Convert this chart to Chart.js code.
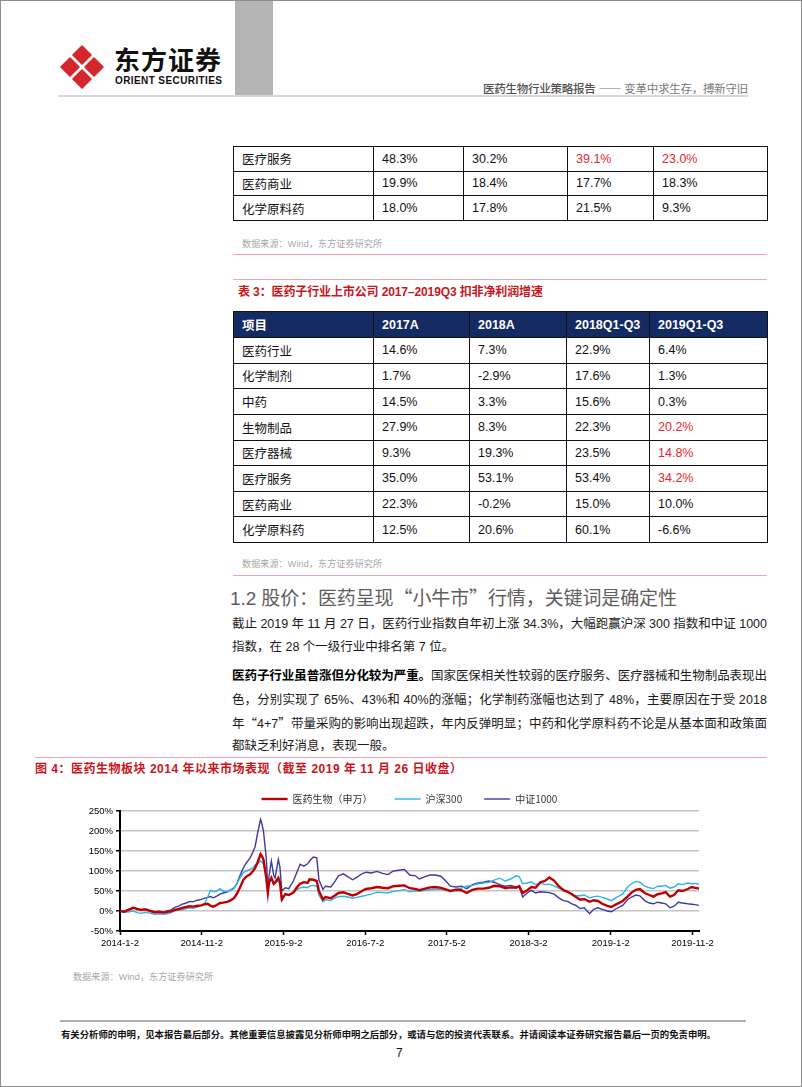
<!DOCTYPE html>
<html lang="zh-CN">
<head>
<meta charset="utf-8">
<title>医药生物行业策略报告</title>
<script src="https://cdn.jsdelivr.net/npm/chart.js@4.4.1/dist/chart.umd.min.js"></script>
<style>
  html, body { margin: 0; padding: 0; background: #fff; }
  #page { position: relative; width: 802px; height: 1087px; overflow: hidden;
    font-family: "Liberation Sans", Arial, "Noto Sans CJK SC", sans-serif; color: #111; }
  #frame { position: absolute; left: 0; top: 0; width: 802px; height: 1087px; box-sizing: border-box;
    border: 1px solid #8c8c8c; pointer-events: none; }
  .a { position: absolute; white-space: nowrap; display: inline-block; }
  .cjk { font-family: "Noto Sans CJK SC", sans-serif; }
  .rule { position: absolute; height: 1px; background: #f0a3aa; }
  .src { font-size: 9px; line-height: 12px; color: #a6a6a6; }
  .para { font-size: 12.5px; line-height: 16px; color: #1a1a1a; }
  .ttl { font-size: 12px; line-height: 16px; font-weight: bold; color: #c8161d; }
  table.t { position: absolute; border-collapse: collapse; table-layout: fixed; font-size: 12.5px; }
  table.t td { border: 1.5px solid #111; padding: 0 0 0 8px; white-space: nowrap; color: #111; }
  table.t tr.hd td { background: #142a62; color: #fff; font-weight: bold; border-color: #111; }
  table.t td.red { color: #e8262f; }
</style>
</head>
<body>
<div id="page">
  <!-- header -->
  <div class="a" style="left:235px;top:0;width:38px;height:96px;background:#b4b4b4;"></div>
  <svg class="a" style="left:58px;top:43px" width="48" height="48" viewBox="0 0 48 48">
    <g fill="#d6262d" stroke="#d6262d" stroke-width="1.6" stroke-linejoin="round">
      <polygon points="24,3 33,12 24,21 15,12"/>
      <polygon points="3,24 12,15 21,24 12,33"/>
      <polygon points="45,24 36,15 27,24 36,33"/>
      <polygon points="24,45 33,36 24,27 15,36"/>
    </g>
  </svg>
  <div class="a cjk" data-fit="107" style="left:114px;top:44px;font-size:26px;line-height:30px;font-weight:bold;color:#111;">东方证券</div>
  <div class="a" data-fit="107" style="left:115px;top:75px;font-size:10px;line-height:12px;font-weight:bold;color:#111;">ORIENT SECURITIES</div>
  <div class="a" data-fit="265" style="left:483px;top:81px;font-size:11.5px;line-height:14px;color:#7a7a7a;"><span class="cjk" style="color:#505050;font-weight:500;">医药生物行业策略报告</span> <span class="cjk">——</span> <span class="cjk">变革中求生存，搏新守旧</span></div>
  <div class="a" style="left:58px;top:95px;width:690px;height:2px;background:#d8d8d8;"></div>

  <!-- table continued -->
  <table class="t" style="left:233px;top:146px;width:534px;height:75px;">
    <colgroup><col style="width:140px"><col style="width:90px"><col style="width:104px"><col style="width:86px"><col style="width:114px"></colgroup>
    <tr><td class="cjk">医疗服务</td><td>48.3%</td><td>30.2%</td><td class="red">39.1%</td><td class="red">23.0%</td></tr>
    <tr><td class="cjk">医药商业</td><td>19.9%</td><td>18.4%</td><td>17.7%</td><td>18.3%</td></tr>
    <tr><td class="cjk">化学原料药</td><td>18.0%</td><td>17.8%</td><td>21.5%</td><td>9.3%</td></tr>
  </table>
  <div class="a src" data-fit="140" style="left:242px;top:238px;">数据来源：Wind，东方证券研究所</div>
  <div class="rule" style="left:233px;top:254px;width:534px;"></div>

  <div class="rule" style="left:233px;top:279px;width:534px;"></div>
  <div class="a ttl" data-fit="305" style="left:238px;top:284px;">表 3：医药子行业上市公司 2017–2019Q3 扣非净利润增速</div>

  <table class="t" style="left:233px;top:311px;width:534px;height:232px;">
    <colgroup><col style="width:140px"><col style="width:96px"><col style="width:97px"><col style="width:83px"><col style="width:118px"></colgroup>
    <tr class="hd" style="height:26px"><td class="cjk">项目</td><td>2017A</td><td>2018A</td><td>2018Q1-Q3</td><td>2019Q1-Q3</td></tr>
    <tr><td class="cjk">医药行业</td><td>14.6%</td><td>7.3%</td><td>22.9%</td><td>6.4%</td></tr>
    <tr><td class="cjk">化学制剂</td><td>1.7%</td><td>-2.9%</td><td>17.6%</td><td>1.3%</td></tr>
    <tr><td class="cjk">中药</td><td>14.5%</td><td>3.3%</td><td>15.6%</td><td>0.3%</td></tr>
    <tr><td class="cjk">生物制品</td><td>27.9%</td><td>8.3%</td><td>22.3%</td><td class="red">20.2%</td></tr>
    <tr><td class="cjk">医疗器械</td><td>9.3%</td><td>19.3%</td><td>23.5%</td><td class="red">14.8%</td></tr>
    <tr><td class="cjk">医疗服务</td><td>35.0%</td><td>53.1%</td><td>53.4%</td><td class="red">34.2%</td></tr>
    <tr><td class="cjk">医药商业</td><td>22.3%</td><td>-0.2%</td><td>15.0%</td><td>10.0%</td></tr>
    <tr><td class="cjk">化学原料药</td><td>12.5%</td><td>20.6%</td><td>60.1%</td><td>-6.6%</td></tr>
  </table>
  <div class="a src" data-fit="140" style="left:242px;top:558px;">数据来源：Wind，东方证券研究所</div>
  <div class="rule" style="left:233px;top:575px;width:534px;"></div>

  <!-- section text -->
  <div class="a" data-fit="447" style="left:230px;top:585px;font-size:19px;line-height:24px;color:#5e5e5e;">1.2 <span class="cjk">股价：医药呈现“小牛市”行情，关键词是确定性</span></div>
  <div class="a para" data-fit="535" style="left:232px;top:616px;">截止 2019 年 11 月 27 日，医药行业指数自年初上涨 34.3%，大幅跑赢沪深 300 指数和中证 1000</div>
  <div class="a para" style="left:232px;top:639px;">指数，在 28 个一级行业中排名第 7 位。</div>
  <div class="a para" data-fit="535" style="left:232px;top:668px;"><b style="color:#000">医药子行业虽普涨但分化较为严重。</b>国家医保相关性较弱的医疗服务、医疗器械和生物制品表现出</div>
  <div class="a para" data-fit="535" style="left:232px;top:691.5px;">色，分别实现了 65%、43%和 40%的涨幅；化学制药涨幅也达到了 48%，主要原因在于受 2018</div>
  <div class="a para" data-fit="535" style="left:232px;top:715px;">年<span class="cjk">“</span>4+7<span class="cjk">”</span>带量采购的影响出现超跌，年内反弹明显；中药和化学原料药不论是从基本面和政策面</div>
  <div class="a para" style="left:232px;top:738px;">都缺乏利好消息，表现一般。</div>

  <!-- figure 4 -->
  <div class="rule" style="left:35px;top:757px;width:732px;"></div>
  <div class="a ttl" data-fit="427" style="left:35px;top:761px;">图 4：医药生物板块 2014 年以来市场表现（截至 2019 年 11 月 26 日收盘）</div>
  <div class="a" style="left:35px;top:772px;width:733px;height:183px;">
    <canvas id="perfChart" width="733" height="183"></canvas>
  </div>
  <div class="a src" data-fit="140" style="left:73px;top:971px;">数据来源：Wind，东方证券研究所</div>

  <!-- footer -->
  <div class="a" style="left:60px;top:1020px;width:686px;height:2px;background:#b0b0b0;"></div>
  <div class="a cjk" data-fit="655" style="left:61px;top:1028px;font-size:9.4px;line-height:12px;font-weight:bold;color:#111;">有关分析师的申明，见本报告最后部分。其他重要信息披露见分析师申明之后部分，或请与您的投资代表联系。并请阅读本证券研究报告最后一页的免责申明。</div>
  <div class="a" style="left:396px;top:1045px;font-size:12px;line-height:16px;color:#111;">7</div>

  <div id="frame"></div>
</div>

<script>
// 医药生物板块 vs 沪深300 / 中证1000, cumulative return since 2014-1-2 (%)
const dates = [
  '2014-1-2', '2014-1-17', '2014-2-7', '2014-2-20', '2014-3-7', '2014-3-21', '2014-4-8', '2014-4-25',
  '2014-5-12', '2014-5-28', '2014-6-13', '2014-6-27', '2014-7-11', '2014-7-25', '2014-8-8', '2014-8-22',
  '2014-9-5', '2014-9-19', '2014-9-30', '2014-10-17', '2014-10-31', '2014-11-14', '2014-11-24', '2014-12-5',
  '2014-12-15', '2014-12-28', '2015-1-9', '2015-1-21', '2015-2-4', '2015-2-16', '2015-3-2', '2015-3-12',
  '2015-3-24', '2015-4-6', '2015-4-17', '2015-5-1', '2015-5-12', '2015-5-20', '2015-5-29', '2015-6-9',
  '2015-6-15', '2015-6-20', '2015-6-30', '2015-7-6', '2015-7-10', '2015-7-19', '2015-7-28', '2015-8-2',
  '2015-8-14', '2015-8-20', '2015-8-27', '2015-9-9', '2015-9-22', '2015-10-9', '2015-10-21', '2015-11-3',
  '2015-11-17', '2015-12-1', '2015-12-8', '2015-12-22', '2016-1-4', '2016-1-12', '2016-1-27', '2016-2-5',
  '2016-2-25', '2016-3-10', '2016-3-25', '2016-4-12', '2016-4-28', '2016-5-16', '2016-6-1', '2016-6-20',
  '2016-7-5', '2016-7-25', '2016-8-15', '2016-9-5', '2016-9-25', '2016-10-15', '2016-11-5', '2016-11-25',
  '2016-12-15', '2017-1-5', '2017-1-20', '2017-2-10', '2017-3-1', '2017-3-20', '2017-4-10', '2017-4-28',
  '2017-5-15', '2017-6-5', '2017-6-25', '2017-7-15', '2017-8-5', '2017-8-25', '2017-9-15', '2017-10-5',
  '2017-10-25', '2017-11-15', '2017-12-5', '2017-12-25', '2018-1-15', '2018-1-26', '2018-2-8', '2018-2-25',
  '2018-3-12', '2018-3-28', '2018-4-15', '2018-5-2', '2018-5-18', '2018-6-5', '2018-6-22', '2018-7-10',
  '2018-7-25', '2018-8-10', '2018-8-25', '2018-9-10', '2018-9-25', '2018-10-15', '2018-10-30', '2018-11-15',
  '2018-12-1', '2018-12-20', '2019-1-4', '2019-1-20', '2019-2-15', '2019-3-5', '2019-3-20', '2019-4-5',
  '2019-4-20', '2019-5-8', '2019-5-25', '2019-6-10', '2019-6-25', '2019-7-10', '2019-7-25', '2019-8-10',
  '2019-8-25', '2019-9-10', '2019-9-25', '2019-10-15', '2019-10-30', '2019-11-12', '2019-11-26'
];
const swMedicine = [
  0, -2, 4, 8, 5, 3, 4, 0,
  -3, -2, -4, -2, -1, 3, 5, 8,
  10, 12, 11, 13, 14, 17, 18, 13,
  11, 15, 20, 21, 23, 26, 32, 42,
  58, 78, 86, 92, 100, 108, 122, 142,
  136, 128, 83, 46, 70, 83, 68, 71,
  83, 72, 29, 42, 40, 46, 58, 68,
  72, 70, 79, 78, 75, 50, 29, 35,
  32, 38, 45, 47, 43, 39, 42, 50,
  55, 57, 60, 58, 57, 62, 63, 64,
  57, 55, 52, 56, 59, 60, 58, 54,
  50, 53, 52, 45, 53, 56, 56, 58,
  63, 62, 57, 59, 58, 62, 45, 52,
  60, 58, 72, 75, 84, 76, 62, 52,
  48, 42, 35, 28, 30, 23, 27, 25,
  18, 13, 10, 16, 25, 36, 46, 53,
  55, 45, 40, 36, 42, 44, 47, 36,
  40, 52, 50, 55, 60, 58, 56
];
const hs300 = [
  0, -3, -2, 0, -4, -6, -3, -6,
  -8, -7, -8, -7, -4, 1, 2, 3,
  6, 8, 7, 10, 14, 20, 35, 52,
  48, 50, 56, 50, 48, 52, 56, 68,
  82, 96, 100, 104, 108, 115, 118, 125,
  122, 116, 88, 58, 70, 79, 66, 71,
  75, 66, 25, 42, 40, 46, 53, 58,
  60, 58, 62, 64, 62, 40, 23, 28,
  26, 32, 36, 37, 35, 32, 34, 37,
  39, 42, 47, 46, 45, 49, 51, 54,
  48, 50, 50, 52, 53, 54, 54, 52,
  50, 54, 57, 62, 64, 68, 70, 72,
  77, 82, 75, 80, 88, 86, 68, 70,
  73, 66, 70, 66, 67, 63, 57, 52,
  48, 42, 38, 38, 40, 33, 36, 37,
  34, 30, 26, 33, 42, 60, 68, 74,
  72, 62, 58, 56, 62, 62, 64, 57,
  60, 68, 66, 70, 68, 69, 67
];
const csi1000 = [
  0, -1, 5, 9, 6, 2, 5, -1,
  -4, -3, -3, 0, 3, 9, 12, 17,
  20, 24, 23, 27, 29, 32, 34, 36,
  33, 37, 42, 45, 47, 52, 58, 67,
  88, 108, 120, 133, 148, 162, 195, 229,
  215, 198, 133, 58, 85, 125, 88, 83,
  129, 110, 50, 58, 56, 75, 95, 117,
  112, 118, 125, 135, 133, 78, 54, 62,
  60, 72, 88, 93, 86, 78, 84, 93,
  97, 95, 99, 94, 91, 100, 102, 104,
  90, 88, 80, 86, 90, 90, 87, 75,
  62, 60, 62, 56, 66, 70, 72, 75,
  72, 66, 62, 64, 60, 62, 35, 45,
  52, 45, 48, 47, 46, 42, 33, 26,
  24, 18, 14, 6, 8, -7, 4, 8,
  4, 0, -2, 5, 14, 28, 35, 40,
  38, 26, 20, 18, 22, 20, 18, 8,
  12, 22, 20, 18, 17, 16, 14
];
const seriesNames = ['医药生物（申万）', '沪深300', '中证1000'];
const seriesColors = ['#c00000', '#2db4e8', '#3f3a9e'];
const xTickLabels = ['2014-1-2', '2014-11-2', '2015-9-2', '2016-7-2', '2017-5-2', '2018-3-2', '2019-1-2', '2019-11-2'];
const yTicks = [-50, 0, 50, 100, 150, 200, 250];

// stretch single text lines to the measured width of the page
document.querySelectorAll('[data-fit]').forEach(el => {
  const target = parseFloat(el.dataset.fit);
  const w = el.getBoundingClientRect().width;
  const n = [...el.textContent].length;
  if (n > 1) el.style.letterSpacing = ((target - w) / (n - 1)) + 'px';
});

const origin = Date.UTC(2014, 0, 2);
function dayIndex(s) {
  const [y, m, d] = s.split('-').map(Number);
  return Math.round((Date.UTC(y, m - 1, d) - origin) / 86400000);
}
const xTickDays = xTickLabels.map(dayIndex);
const toPoints = vals => dates.map((d, i) => ({ x: dayIndex(d), y: vals[i] }));

const tickFont = { family: '"Liberation Sans", Arial, sans-serif', size: 9.5 };
const ctx = document.getElementById('perfChart').getContext('2d');

new Chart(ctx, {
  type: 'line',
  data: {
    datasets: [swMedicine, hs300, csi1000].map((vals, i) => ({
      label: seriesNames[i],
      data: toPoints(vals),
      borderColor: seriesColors[i],
      backgroundColor: seriesColors[i],
      borderWidth: i === 0 ? 2.4 : 1.4,
    })),
  },
  options: {
    responsive: false,
    animation: false,
    layout: { padding: { left: 0, right: 69, top: 0, bottom: 0 } },
    elements: { point: { radius: 0 }, line: { tension: 0 } },
    plugins: {
      tooltip: { enabled: false },
      legend: {
        position: 'top',
        fullSize: false,
        maxHeight: 39,
        labels: {
          usePointStyle: true,
          pointStyle: 'line',
          pointStyleWidth: 26,
          padding: 22,
          color: '#333',
          font: { family: '"Noto Sans CJK SC", sans-serif', size: 10 },
        },
      },
    },
    scales: {
      x: {
        type: 'linear',
        min: 0,
        max: dayIndex(dates[dates.length - 1]),
        afterBuildTicks: s => { s.ticks = xTickDays.map(v => ({ value: v })); },
        afterFit: s => { s.height = 24; },
        ticks: {
          autoSkip: false,
          maxRotation: 0,
          padding: 3,
          color: '#000',
          font: tickFont,
          callback: (v, i) => xTickLabels[i],
        },
        grid: { drawOnChartArea: false, tickLength: 4, tickColor: '#000', tickWidth: 1.5 },
        border: { color: '#000', width: 2 },
      },
      y: {
        min: -50,
        max: 250,
        afterBuildTicks: s => { s.ticks = yTicks.map(v => ({ value: v })); },
        afterFit: s => { s.width = 85; },
        ticks: { padding: 3, color: '#000', font: tickFont, callback: v => v + '%' },
        grid: { color: '#c4c4c4', lineWidth: 1.5, tickColor: '#000', tickLength: 4, tickWidth: 1.5 },
        border: { color: '#000', width: 2 },
      },
    },
  },
});
</script>
</body>
</html>
